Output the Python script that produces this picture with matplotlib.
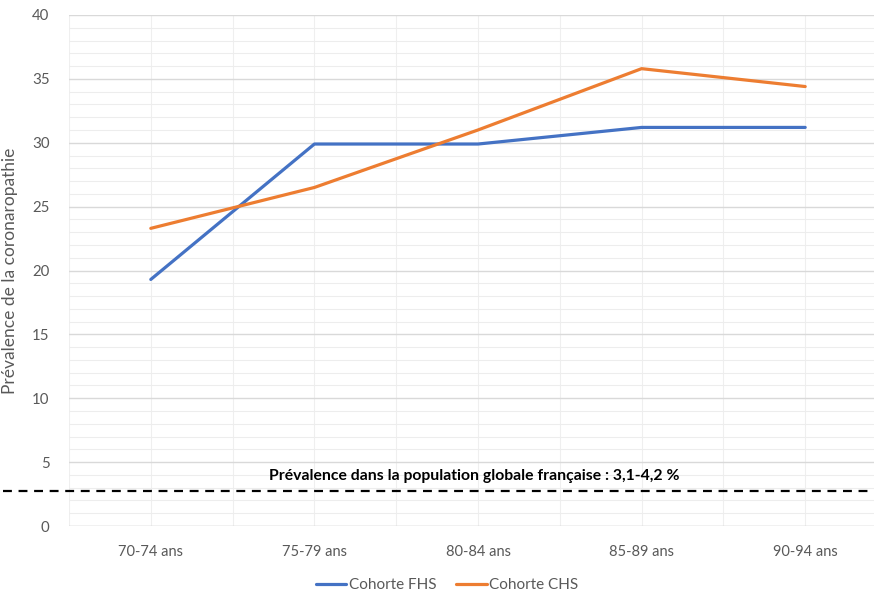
import numpy as np
import matplotlib
matplotlib.use('Agg')
import matplotlib.pyplot as plt
from matplotlib.ticker import MultipleLocator

plt.rcParams['font.family'] = ['Lato', 'DejaVu Sans']

categories = ['70-74 ans', '75-79 ans', '80-84 ans', '85-89 ans', '90-94 ans']
fhs = [19.3, 29.9, 29.9, 31.2, 31.2]
chs = [23.3, 26.5, 31.0, 35.8, 34.4]
ref_level = 2.75
ref_text = 'Prévalence dans la population globale française : 3,1-4,2 %'

grey = '#595959'

fig = plt.figure(figsize=(8.74, 5.92), dpi=100)
ax = fig.add_axes([69 / 874, 66 / 592, 818 / 874, 511 / 592])

x = np.arange(len(categories))
ax.plot(x, fhs, color='#4472C4', lw=2.3, label='Cohorte FHS', solid_capstyle='round', zorder=3)
ax.plot(x, chs, color='#ED7D31', lw=2.3, label='Cohorte CHS', solid_capstyle='round', zorder=3)

ax.set_xlim(-0.5, 4.5)
ax.set_ylim(0, 40)
ax.set_xticks(x)
ax.set_xticklabels(categories)
ax.yaxis.set_major_locator(MultipleLocator(5))
ax.yaxis.set_minor_locator(MultipleLocator(1))
ax.xaxis.set_minor_locator(MultipleLocator(0.5))

ax.grid(which='major', axis='y', color='#d9d9d9', lw=1.0, zorder=0)
ax.grid(which='minor', axis='y', color='#ededed', lw=0.8, zorder=0)
ax.grid(which='both', axis='x', color='#efefef', lw=0.8, zorder=0)
ax.set_axisbelow(True)

for s in ax.spines.values():
    s.set_visible(False)
ax.axhline(0, color='#d9d9d9', lw=1.0, zorder=1)

ax.tick_params(which='both', length=0)
ax.tick_params(axis='y', labelsize=10.8, labelcolor=grey, pad=14)
ax.tick_params(axis='x', labelsize=10.5, labelcolor=grey, pad=14)
ax.set_ylabel('Prévalence de la coronaropathie', fontsize=12.5, color=grey, labelpad=10)

# reference level for the general population, drawn across the whole width
ax.axhline(ref_level, xmin=-66 / 818, xmax=801 / 818, color='black', lw=1.6,
           ls=(0, (4, 3)), clip_on=False, zorder=2)
ax.text(1.98, ref_level + 0.6, ref_text, ha='center', va='bottom',
        fontsize=11.3, fontweight='bold', color='black')

ax.legend(loc='upper center', bbox_to_anchor=((447 - 69) / 818, -0.075), ncol=2,
          frameon=False, fontsize=11, labelcolor=grey, handlelength=2.0,
          handletextpad=0.15, columnspacing=1.3)

fig.savefig('out.png', dpi=100)
